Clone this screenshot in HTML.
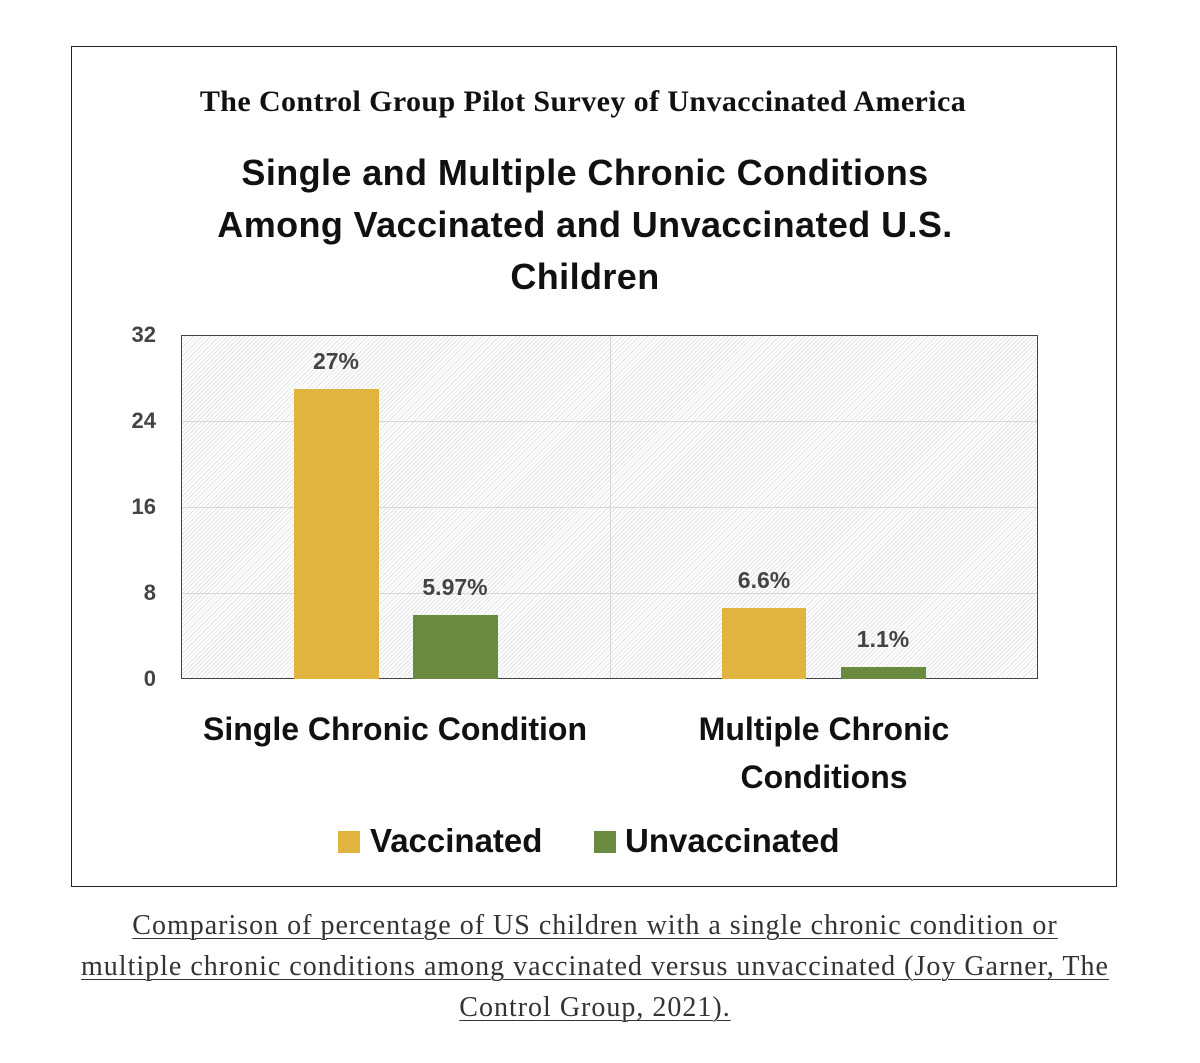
<!DOCTYPE html>
<html><head><style>
body{margin:0;background:#fff;width:1200px;height:1063px;position:relative;overflow:hidden;font-family:"Liberation Sans",sans-serif}
.abs{position:absolute}
.box{left:71px;top:46px;width:1044px;height:839px;border:1.5px solid #222}
.plot{left:181px;top:335px;width:855px;height:342px;border:1.5px solid #444;background:repeating-linear-gradient(135deg,#fff 0 2px,#e4e4e4 2px 3px)}
.grid{left:182px;width:855px;height:1px;background:#d8d8d8}
.bar{position:absolute}
.g{background:#E1B43F}.v{background:#6A8B3F}
.lbl{position:absolute;font-weight:bold;color:#444;font-size:23px;text-align:center;width:120px}
.yt{position:absolute;left:100px;width:56px;text-align:right;font-weight:bold;color:#444;font-size:22px}
.cat{position:absolute;font-weight:bold;color:#111;font-size:32px;text-align:center;line-height:48px}
.cap{left:0;width:1190px;top:905px;text-align:center;font-family:"Liberation Serif",serif;font-size:28px;letter-spacing:1px;line-height:41px;color:#333}
.cap u{text-decoration-thickness:1px;text-underline-offset:4px}
</style></head><body>
<div class="abs box"></div>
<div class="abs" style="left:0;width:1166px;top:85px;text-align:center;font-family:'Liberation Serif',serif;font-weight:bold;font-size:30px;letter-spacing:0.4px;color:#111">The Control Group Pilot Survey of Unvaccinated America</div>
<div class="abs" style="left:0;width:1170px;top:147px;text-align:center;font-weight:bold;font-size:36px;letter-spacing:0.4px;line-height:52px;color:#111">Single and Multiple Chronic Conditions<br>Among Vaccinated and Unvaccinated U.S.<br>Children</div>
<div class="abs plot"></div>
<div class="abs grid" style="top:421px"></div>
<div class="abs grid" style="top:507px"></div>
<div class="abs grid" style="top:593px"></div>
<div class="abs" style="left:610px;top:336px;width:1px;height:342px;background:#d8d8d8"></div>
<div class="yt" style="top:322px">32</div>
<div class="yt" style="top:408px">24</div>
<div class="yt" style="top:494px">16</div>
<div class="yt" style="top:580px">8</div>
<div class="yt" style="top:666px">0</div>
<div class="bar g" style="left:294px;top:389px;width:85px;height:290px"></div>
<div class="bar v" style="left:413px;top:615px;width:85px;height:64px"></div>
<div class="bar g" style="left:722px;top:608px;width:84px;height:71px"></div>
<div class="bar v" style="left:841px;top:667px;width:85px;height:12px"></div>
<div class="lbl" style="left:276px;top:348px">27%</div>
<div class="lbl" style="left:395px;top:574px">5.97%</div>
<div class="lbl" style="left:704px;top:567px">6.6%</div>
<div class="lbl" style="left:823px;top:626px">1.1%</div>
<div class="cat" style="left:150px;width:490px;top:705px">Single Chronic Condition</div>
<div class="cat" style="left:624px;width:400px;top:705px">Multiple Chronic<br>Conditions</div>
<div class="abs" style="left:338px;top:831px;width:22px;height:22px;background:#E1B43F"></div>
<div class="cat" style="left:370px;top:817px;text-align:left;font-size:33px">Vaccinated</div>
<div class="abs" style="left:594px;top:831px;width:22px;height:22px;background:#6A8B3F"></div>
<div class="cat" style="left:625px;top:817px;text-align:left;font-size:33px">Unvaccinated</div>
<div class="abs cap"><u>Comparison of percentage of US children with a single chronic condition or</u><br><u>multiple chronic conditions among vaccinated versus unvaccinated (Joy Garner, The</u><br><u>Control Group, 2021).</u></div>
</body></html>
